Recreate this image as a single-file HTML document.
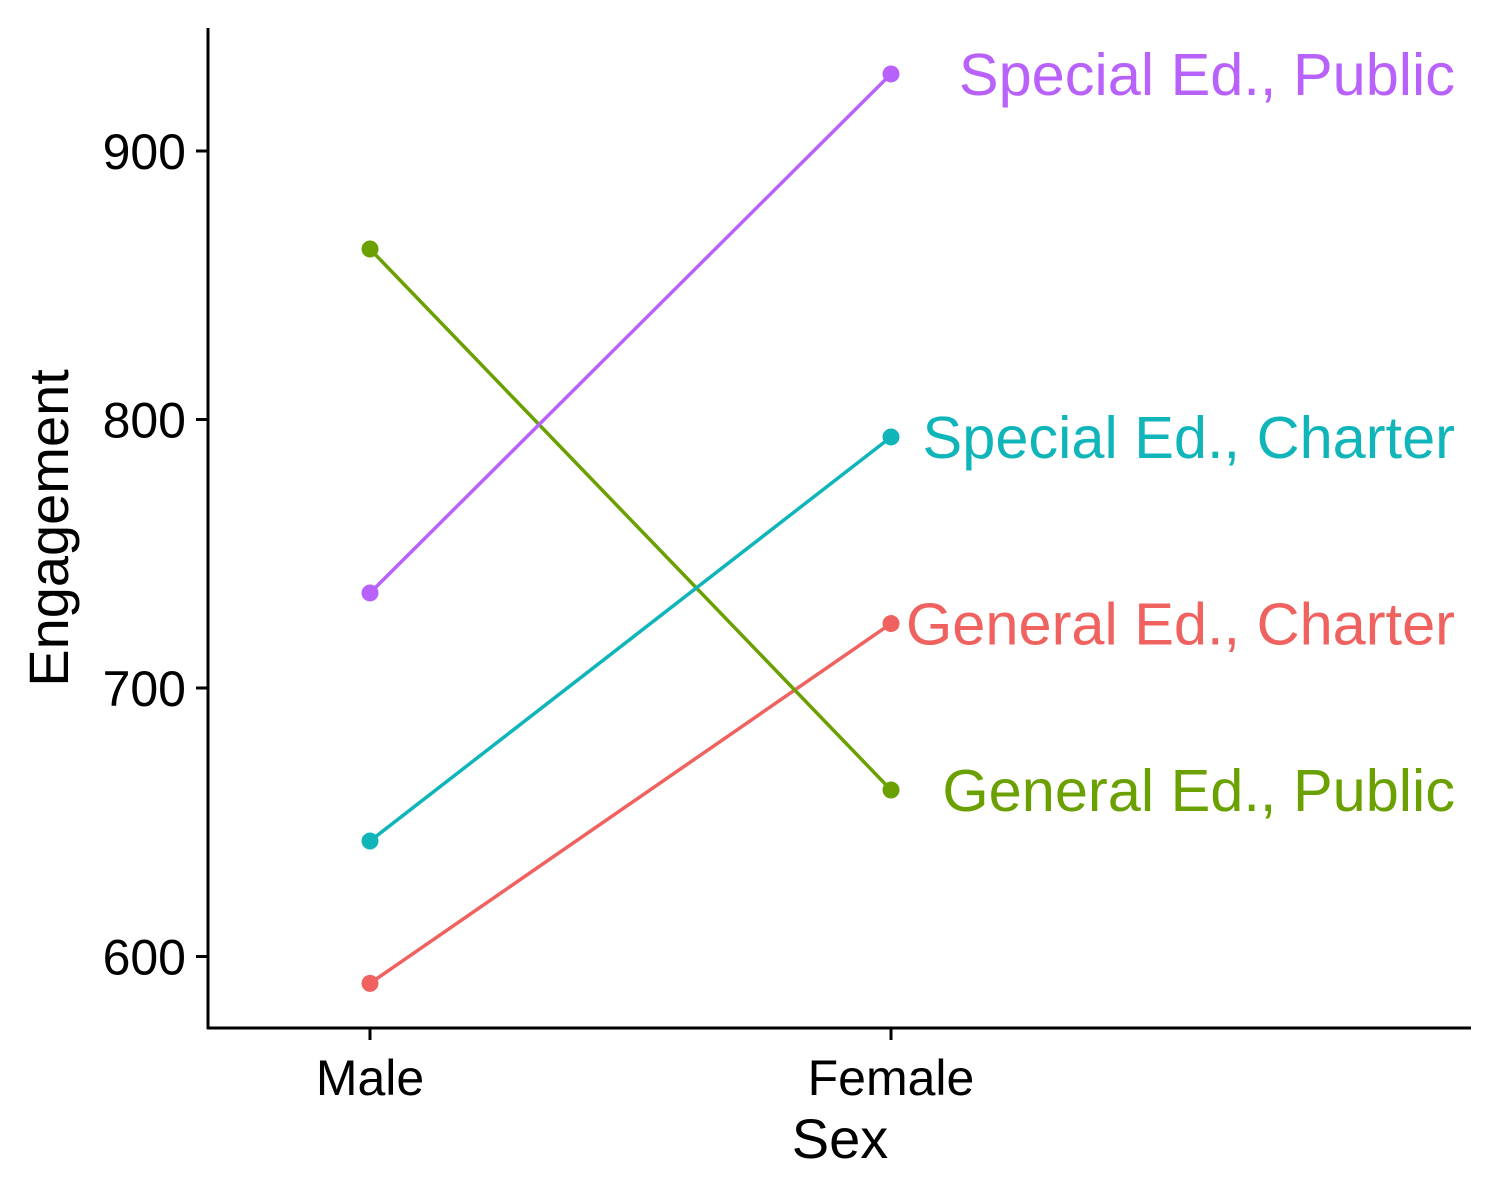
<!DOCTYPE html>
<html><head><meta charset="utf-8"><style>
html,body{margin:0;padding:0;background:#fff}
svg{display:block;font-family:"Liberation Sans",Arial,sans-serif}
</style></head><body>
<svg id="chart" width="1500" height="1200" viewBox="0 0 1500 1200">
<line x1="208" y1="28" x2="208" y2="1029" stroke="#000" stroke-width="3"/>
<line x1="207" y1="1028" x2="1471" y2="1028" stroke="#000" stroke-width="3"/>
<g id="yticks"></g><g id="xticks"></g><g id="series"></g>
<text x="840" y="1158" font-size="56" text-anchor="middle">Sex</text>
<text transform="translate(68,528) rotate(-90)" font-size="56" text-anchor="middle">Engagement</text>
</svg>
<script>
const categories = ["Male", "Female"];
const seriesNames = ["General Ed., Charter", "General Ed., Public", "Special Ed., Charter", "Special Ed., Public"];
const generalCharter = [590, 724];
const generalPublic = [863.5, 662];
const specialCharter = [643, 793.5];
const specialPublic = [735.4, 928.7];
const yTicks = [600, 700, 800, 900];
const colors = ["#F0625F", "#6AA000", "#10B5BA", "#B962FB"];

const NS = "http://www.w3.org/2000/svg";
function y(v){ return 151 + (900 - v) * 2.685; }
function x(i){ return 370 + i * 521; }
function mk(tag, attrs, parent){
  const e = document.createElementNS(NS, tag);
  for (const k in attrs) e.setAttribute(k, attrs[k]);
  parent.appendChild(e); return e;
}
const yt = document.getElementById('yticks');
yTicks.forEach(v => {
  const l = mk('line', {x1:196, x2:208, y1:y(v), y2:y(v), stroke:'#000', 'stroke-width':3}, yt);
  
  
  const t = mk('text', {x:186, y:y(v)+18, 'font-size':50, 'text-anchor':'end'}, yt);
  t.textContent = v;
  
  
});
const xt = document.getElementById('xticks');
categories.forEach((c, i) => {
  const l = mk('line', {x1:x(i), x2:x(i), y1:1028, y2:1040, stroke:'#000', 'stroke-width':3}, xt);
  
  
  const t = mk('text', {x:x(i), y:1095, 'font-size':50, 'text-anchor':'middle'}, xt);
  t.textContent = c;
  
  
});
const sg = document.getElementById('series');
const allSeries = [generalCharter, generalPublic, specialCharter, specialPublic];
allSeries.forEach((vals, s) => {
  const g = mk('g', {}, sg);
  const key = seriesNames[s].toLowerCase().replace(/[^a-z]+/g, '-').replace(/-$/, '');
  
  
  const line = mk('line', {x1:x(0), y1:y(vals[0]), x2:x(1), y2:y(vals[1]), stroke:colors[s], 'stroke-width':3.5}, g);
  
  
  vals.forEach((v, i) => {
    const c = mk('circle', {cx:x(i), cy:y(v), r:8.5, fill:colors[s]}, g);
    
    
  });
  const t = mk('text', {x:1455, y:y(vals[1])+21, 'font-size':59.5, 'text-anchor':'end', fill:colors[s]}, g);
  t.textContent = seriesNames[s];
  
  
});
</script>
</body></html>
